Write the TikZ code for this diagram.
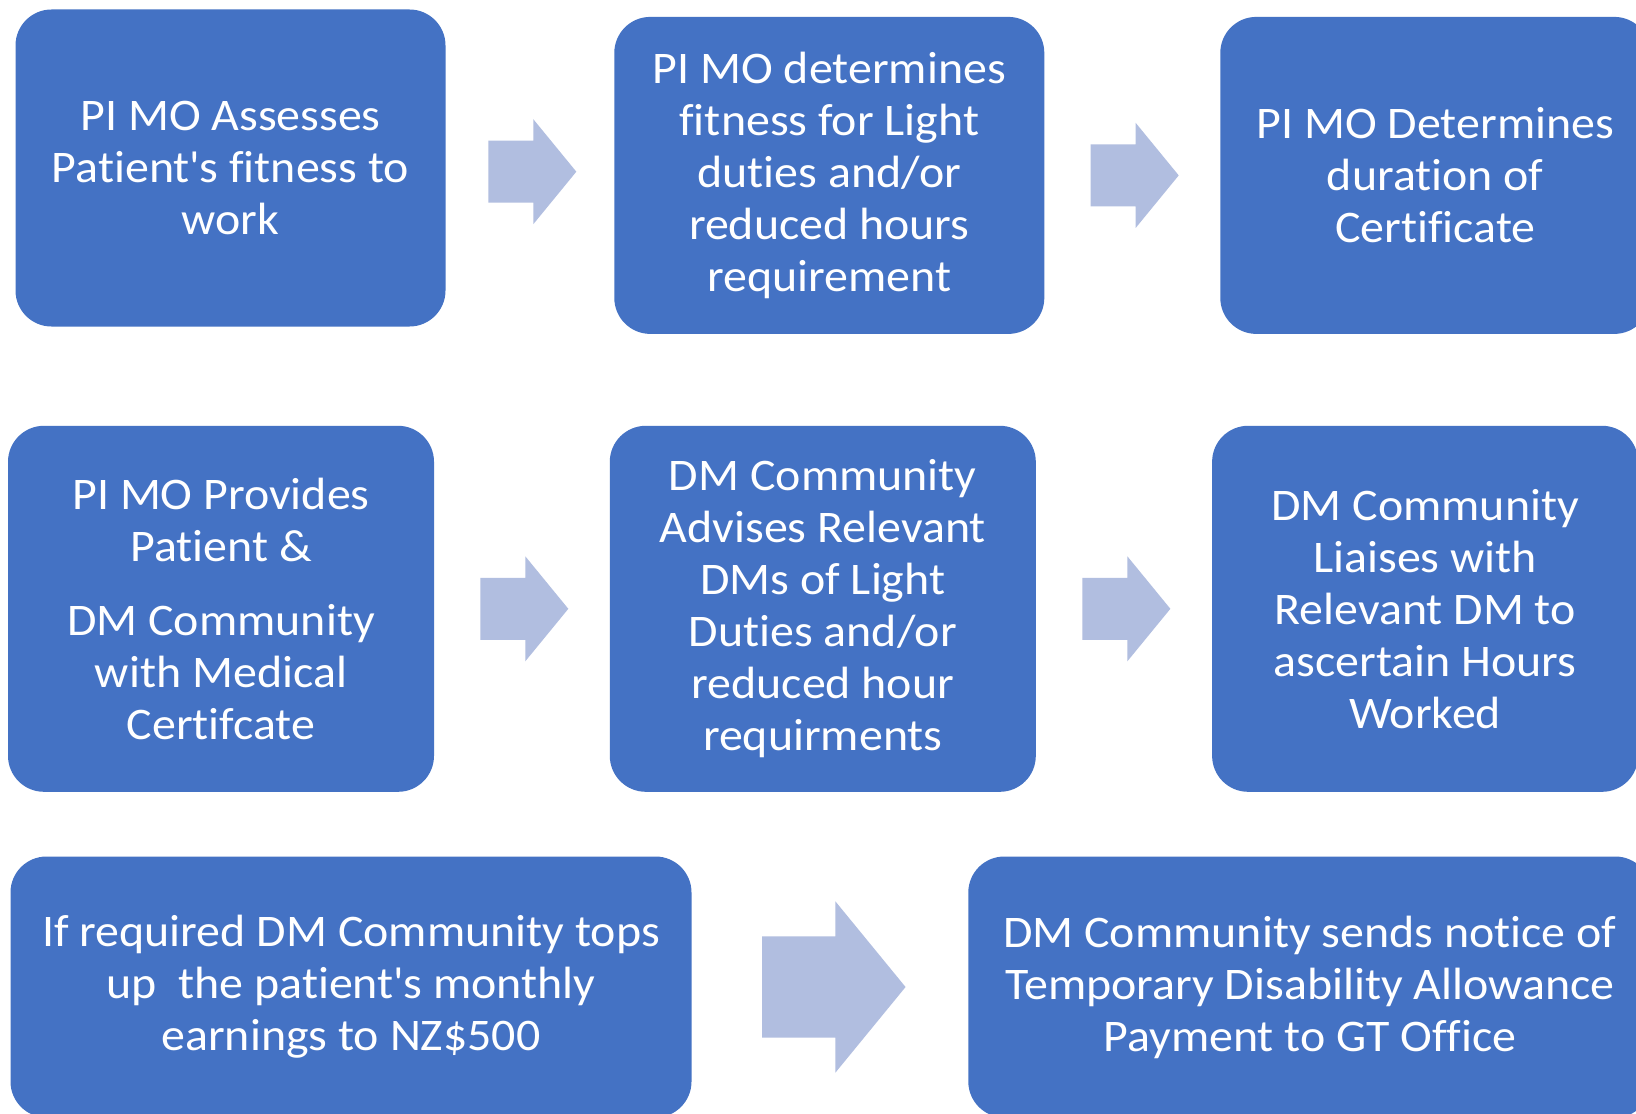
\documentclass[tikz,border=0pt]{standalone}
\usepackage{fontspec}
\setmainfont{Carlito}[FakeStretch=1.06, Ligatures=NoCommon]
\usetikzlibrary{positioning,calc}

\definecolor{boxblue}{HTML}{4472C4}
\definecolor{arrowblue}{RGB}{177,190,224}

\begin{document}
\begin{tikzpicture}[
        x=0.5pt, y=0.5pt,
        box/.style={
          fill=boxblue,
          rounded corners=18pt,
          text=white,
          align=center,
          font=\fontsize{22.6}{26}\selectfont
        },
        toprow/.style={box, minimum width=215pt, minimum height=158.5pt},
        midrow/.style={box, minimum width=213pt, minimum height=183pt},
        lowrow/.style={box, minimum height=130.5pt},
        blockarrow/.pic={
          \fill[arrowblue] (-44,-31) -- (1,-31) -- (1,-52.5) -- (44,0)
            -- (1,52.5) -- (1,31) -- (-44,31) -- cycle;
        }
      ]

      \path[use as bounding box, clip] (0,0) rectangle (1636,-1113);
      \fill[white] (0,0) rectangle (1636,-1113);

      % First row: assessment -> light duties -> duration
      \node[toprow] (assess) at (230.5,-168)
        {PI MO Assesses\\Patient\textquotesingle s fitness to\\work};
      \node[toprow,right=84pt of assess,yshift=-3.7pt] (light)
        {PI MO determines\\fitness for Light\\duties and/or\\reduced hours\\requirement};
      \node[toprow,right=87.6pt of light] (duration)
        {PI MO Determines\\duration of\\Certificate};
      \pic[xshift=1.2pt] at ($(assess.east)!0.5!(light.west)$) {blockarrow};
      \pic[xshift=1.2pt] at ($(light.east)!0.5!(duration.west)$) {blockarrow};

      % Second row: certificate -> advice to DMs -> hours worked
      \node[midrow] (certif) at (221,-608.8)
        {PI MO Provides\\Patient \&\\[11pt]DM Community\\with Medical\\Certifcate};
      \node[midrow,right=87.5pt of certif] (advise)
        {DM Community\\Advises Relevant\\DMs of Light\\Duties and/or\\reduced hour\\requirments};
      \node[midrow,right=87.75pt of advise] (liaise)
        {DM Community\\Liaises with\\Relevant DM to\\ascertain Hours\\Worked};
      \pic[xshift=1.2pt] at ($(certif.east)!0.5!(advise.west)$) {blockarrow};
      \pic[xshift=1.2pt] at ($(advise.east)!0.5!(liaise.west)$) {blockarrow};

      % Last row: top up -> payment notice
      \node[lowrow,minimum width=340.5pt] (topup) at (351,-987)
        {If required DM Community tops\\up~~the patient\textquotesingle s monthly\\earnings to NZ\$500};
      \node[lowrow,minimum width=341.5pt,right=138pt of topup] (notice)
        {DM Community sends notice of\\Temporary Disability Allowance\\Payment to GT Office};
      \pic[scale=1.63,xshift=1.2pt] at ($(topup.east)!0.5!(notice.west)$) {blockarrow};

\end{tikzpicture}
\end{document}
